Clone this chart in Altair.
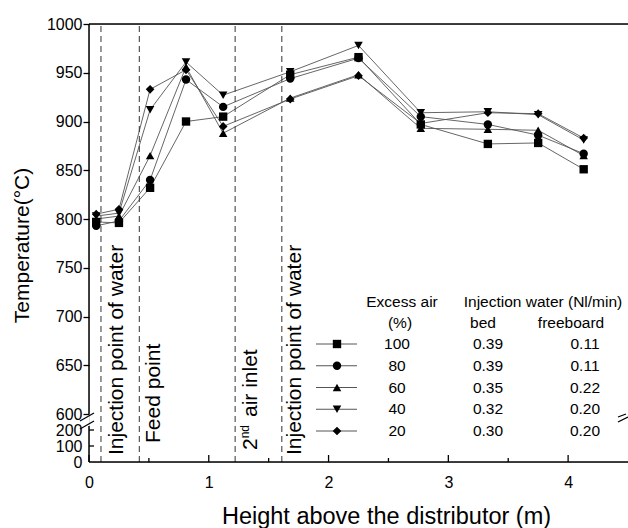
import altair as alt
import pandas as pd

# Height above the distributor (m) of each measuring point
heights = [0.06, 0.25, 0.51, 0.81, 1.12, 1.68, 2.25, 2.77, 3.33, 3.75, 4.13]

# Temperature profiles (°C), one list per excess-air level
temp_ea100 = [797, 796, 832, 900, 905, 948, 966, 897, 877, 878, 851]
temp_ea80 = [793, 798, 840, 943, 915, 944, 965, 905, 897, 886, 867]
temp_ea60 = [800, 803, 865, 956, 888, 924, 948, 893, 892, 891, 865]
temp_ea40 = [803, 806, 912, 961, 927, 951, 978, 909, 910, 907, 881]
temp_ea20 = [805, 810, 933, 953, 895, 923, 947, 898, 909, 908, 883]

excess_air = ["100", "80", "60", "40", "20"]
bed_water = ["0.39", "0.39", "0.35", "0.32", "0.30"]
freeboard_water = ["0.11", "0.11", "0.22", "0.20", "0.20"]
marker_shapes = ["square", "circle", "triangle-up", "triangle-down", "diamond"]
marker_sizes = [70, 75, 105, 105, 115]

# Heights of the water injections, feed point and secondary air inlet
reference_heights = [0.1, 0.42, 1.22, 1.61]

x_ticks = [0, 1, 2, 3, 4]
x_minor_ticks = [0.5, 1.5, 2.5, 3.5]
y_ticks_upper = [600, 650, 700, 750, 800, 850, 900, 950, 1000]
y_ticks_lower = [0, 100, 200]

FONT = "Liberation Sans"
W, H = 539, 438

profiles = [temp_ea100, temp_ea80, temp_ea60, temp_ea40, temp_ea20]
rows = []
for name, temps in zip(excess_air, profiles):
    for h, t in zip(heights, temps):
        rows.append({"height": h, "temp": t, "series": name})
df = pd.DataFrame(rows)

x_scale = alt.Scale(domain=[0, 4.5], nice=False, zero=False)
# broken axis: 0-200 squeezed at the bottom, 600-1000 above
y_scale = alt.Scale(domain=[0, 200, 600, 1000], range=[H, 406, 390, 0], nice=False, zero=False)
shape_scale = alt.Scale(domain=excess_air, range=marker_shapes)
size_scale = alt.Scale(domain=excess_air, range=marker_sizes)

x_axis = alt.Axis(values=x_ticks, tickCount=50, format="d", ticks=False, tickSize=0, domain=False,
                  grid=False, labelFontSize=16, labelColor="black", labelPadding=12, labelFlush=False,
                  labelOverlap=False, labelFont=FONT, title="Height above the distributor (m)",
                  titleFont=FONT, titleFontSize=23.5, titleFontWeight="normal", titleColor="black",
                  titleX=297, titleY=61, titleBaseline="alphabetic", titleAlign="center")
y_axis = alt.Axis(values=y_ticks_lower + y_ticks_upper, tickCount=50, format="d", domain=False,
                  grid=False, tickSize=6, tickWidth=1.3, tickColor="black",
                  tickOpacity={"condition": {"test": "datum.value <= 200", "value": 0}, "value": 1},
                  labelFontSize=16, labelColor="black", labelPadding=1, labelOverlap=False,
                  labelBound=False, labelFlush=False,
                  labelFont=FONT, title="Temperature(°C)", titleFont=FONT, titleFontSize=21,
                  titleFontWeight="normal", titleColor="black", titleAngle=270,
                  titleX=-61, titleY=221, titleAlign="center", titleBaseline="alphabetic")

one = pd.DataFrame({"k": [0]})

lines = alt.Chart(df).mark_line(color="#555", strokeWidth=0.9).encode(
    x=alt.X("height:Q", scale=x_scale, axis=x_axis),
    y=alt.Y("temp:Q", scale=y_scale, axis=y_axis),
    detail="series:N",
)

dashes = alt.Chart(pd.DataFrame({"h": reference_heights})).mark_rule(
    color="#333", strokeWidth=1, strokeDash=[6, 4]
).encode(
    x=alt.X("h:Q", scale=x_scale),
    y=alt.datum(0),
    y2=alt.datum(1000),
)

points = alt.Chart(df).mark_point(filled=True, color="black", opacity=1).encode(
    x=alt.X("height:Q", scale=x_scale),
    y=alt.Y("temp:Q", scale=y_scale),
    shape=alt.Shape("series:N", scale=shape_scale, legend=None),
    size=alt.Size("series:N", scale=size_scale, legend=None),
)


def vertical_label(text, xpos, shift, size=21, dy=0):
    return alt.Chart(one).mark_text(
        text=text, angle=270, align="left", baseline="alphabetic",
        fontSize=size, font=FONT, color="black", dx=shift, dy=dy,
    ).encode(x=alt.datum(xpos), y=alt.datum(0))


annotations = [
    vertical_label("Injection point of water", 0.284, 7),
    vertical_label("Feed point", 0.59, 19),
    vertical_label("2", 1.40, 12),
    vertical_label("nd", 1.40, 23.7, size=12, dy=-8),
    vertical_label("air inlet", 1.40, 45),
    vertical_label("Injection point of water", 1.77, 7),
]

# frame lines (the left one broken between 300 and 600)
frame_df = pd.DataFrame({
    "x0": [0, 0, 0, 0], "x1": [4.5, 4.5, 0, 0],
    "y0": [0, 1000, 600, 0], "y1": [0, 1000, 1000, 300],
})
frame = alt.Chart(frame_df).mark_rule(color="black", strokeWidth=1.5).encode(
    x=alt.X("x0:Q", scale=x_scale), x2="x1:Q",
    y=alt.Y("y0:Q", scale=y_scale), y2="y1:Q",
)

# inward ticks on the height axis and on the low part of the temperature axis
major_ticks = alt.Chart(pd.DataFrame({"t": x_ticks})).mark_rule(color="black", strokeWidth=1.3).encode(
    x=alt.X("t:Q", scale=x_scale), y=alt.value(H), y2=alt.value(H - 7))
minor_ticks = alt.Chart(pd.DataFrame({"t": x_minor_ticks})).mark_rule(color="black", strokeWidth=1.3).encode(
    x=alt.X("t:Q", scale=x_scale), y=alt.value(H), y2=alt.value(H - 4))
low_ticks = alt.Chart(pd.DataFrame({"t": y_ticks_lower[1:]})).mark_rule(color="black", strokeWidth=1.3).encode(
    y=alt.Y("t:Q", scale=y_scale), x=alt.value(0), x2=alt.value(5))

main = alt.layer(lines, dashes, points, *annotations, frame, major_ticks, minor_ticks, low_ticks)

# legend table
legend_df = pd.DataFrame({
    "row": list(range(len(excess_air))),
    "series": excess_air,
    "bed": bed_water,
    "free": freeboard_water,
})
legend_y = alt.Y("row:Q", scale=alt.Scale(domain=[0, 4], range=[320, 407]), axis=None)
legend_base = alt.Chart(legend_df)
leg_rule = legend_base.mark_rule(color="#555", strokeWidth=1).encode(
    x=alt.value(227), x2=alt.value(268), y=legend_y)
leg_pts = legend_base.mark_point(filled=True, color="black", opacity=1).encode(
    x=alt.value(248), y=legend_y,
    shape=alt.Shape("series:N", scale=shape_scale, legend=None),
    size=alt.Size("series:N", scale=size_scale, legend=None),
)


def legend_col(field, xpos):
    return legend_base.mark_text(fontSize=15.5, font=FONT, color="black", baseline="middle").encode(
        x=alt.value(xpos), y=legend_y, text=f"{field}:N")


def header(text, xpos, ypos):
    return alt.Chart(one).mark_text(text=text, fontSize=15.5, font=FONT, color="black",
                                    baseline="middle").encode(x=alt.value(xpos), y=alt.value(ypos))


def slash(x1, y1, x2, y2):
    return alt.Chart(one).mark_rule(color="black", strokeWidth=1.3).encode(
        x=alt.value(x1), y=alt.value(y1), x2=alt.value(x2), y2=alt.value(y2))


legend = alt.layer(
    leg_rule, leg_pts,
    legend_col("series", 308), legend_col("bed", 399), legend_col("free", 496),
    header("Excess air", 313, 278), header("Injection water (Nl/min)", 454, 278),
    header("(%)", 311, 299), header("bed", 394, 299), header("freeboard", 482, 299),
    slash(-9, 397, 5, 389), slash(-9, 405, 5, 397),
    slash(529, 393, 537, 390), slash(529, 398, 539, 393),
)

chart = alt.layer(main, legend).resolve_scale(
    x="independent", y="independent"
).properties(
    width=W, height=H,
    autosize=alt.AutoSizeParams(type="none"),
    padding={"left": 89, "top": 24, "right": 0, "bottom": 66},
).configure_view(stroke=None).configure(font=FONT).configure_axis(labelOverlap=False)

chart.save("out.html", embed_options={"renderer": "svg", "actions": False})
